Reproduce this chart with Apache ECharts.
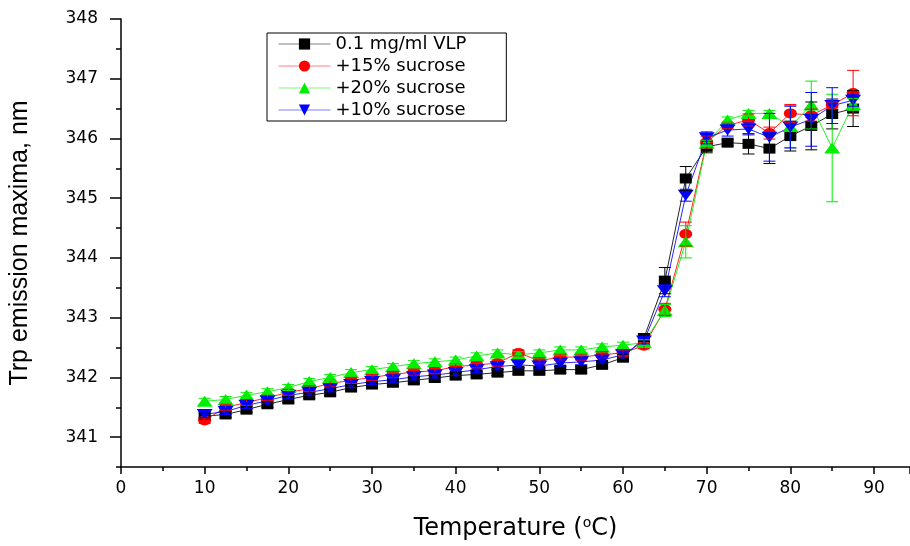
<!DOCTYPE html>
<html>
<head>
<meta charset="utf-8">
<script src="https://cdn.jsdelivr.net/npm/echarts@6/dist/echarts.min.js"></script>
<style>html,body{margin:0;padding:0;background:#fff}#c{width:910px;height:546px}</style>
</head>
<body>
<div id="c"></div>
<script>
const temps = [10,12.5,15,17.5,20,22.5,25,27.5,30,32.5,35,37.5,40,42.5,45,47.5,50,52.5,55,57.5,60,62.5,65,67.5,70,72.5,75,77.5,80,82.5,85,87.5];
const vlp   = [341.35,341.38,341.46,341.55,341.63,341.70,341.75,341.83,341.88,341.91,341.95,341.99,342.03,342.05,342.08,342.11,342.11,342.13,342.13,342.21,342.33,342.66,343.62,345.33,345.86,345.93,345.91,345.83,346.04,346.21,346.41,346.50];
const suc15 = [341.28,341.50,341.58,341.66,341.75,341.81,341.90,341.95,342.00,342.05,342.09,342.11,342.18,342.21,342.24,342.41,342.28,342.34,342.34,342.38,342.41,342.53,343.14,344.40,345.94,346.22,346.31,346.09,346.42,346.39,346.56,346.76];
const suc20 = [341.60,341.63,341.70,341.76,341.83,341.93,342.00,342.08,342.13,342.18,342.23,342.26,342.29,342.36,342.41,342.38,342.41,342.46,342.46,342.51,342.54,342.58,343.12,344.27,345.92,346.31,346.42,346.42,346.20,346.56,345.84,346.57];
const suc10 = [341.38,341.43,341.53,341.61,341.70,341.75,341.81,341.88,341.93,341.96,342.01,342.04,342.08,342.13,342.18,342.21,342.19,342.24,342.26,342.29,342.38,342.61,343.45,345.05,346.01,346.14,346.16,346.02,346.19,346.32,346.55,346.64];
const errVlp = [0.05,0.05,0.05,0.05,0.05,0.05,0.05,0.05,0.05,0.05,0.05,0.05,0.05,0.05,0.05,0.05,0.05,0.05,0.05,0.05,0.05,0.05,0.22,0.2,0.1,0.05,0.17,0.25,0.25,0.4,0.25,0.3];
const err15  = [0.05,0.05,0.05,0.05,0.05,0.05,0.05,0.05,0.05,0.05,0.05,0.05,0.05,0.05,0.05,0.05,0.05,0.05,0.05,0.05,0.05,0.05,0.1,0.2,0.1,0.05,0.1,0.1,0.15,0.1,0.05,0.38];
const err20  = [0.05,0.05,0.05,0.05,0.05,0.05,0.05,0.05,0.05,0.05,0.05,0.05,0.05,0.05,0.05,0.05,0.05,0.05,0.05,0.05,0.05,0.05,0.1,0.27,0.05,0.05,0.05,0.05,0.35,0.4,0.9,0.1];
const err10  = [0.05,0.05,0.05,0.05,0.05,0.05,0.05,0.05,0.05,0.05,0.05,0.05,0.05,0.05,0.05,0.05,0.05,0.05,0.05,0.05,0.05,0.05,0.1,0.1,0.1,0.1,0.1,0.4,0.35,0.45,0.3,0.1];
const names = ['0.1 mg/ml VLP','+15% sucrose','+20% sucrose','+10% sucrose'];
const yMajorTicks = [341,342,343,344,345,346,347,348];
const yMinorTicks = [340.5,341.5,342.5,343.5,344.5,345.5,346.5,347.5];
const xTitle = 'Temperature (';
const yTitle = 'Trp emission maxima, nm';

const FONT = '"DejaVu Sans", Verdana, sans-serif';
const FONT2 = '"Liberation Sans", Arial, sans-serif';
const cfg = [
  {name:names[0], vals:vlp,   errs:errVlp, color:'#000000', symbol:'rect',     size:[12,10], rot:0},
  {name:names[1], vals:suc15, errs:err15,  color:'#ff0000', symbol:'circle',   size:[13,10], rot:0},
  {name:names[2], vals:suc20, errs:err20,  color:'#00ee00', symbol:'triangle', size:[16,11], rot:0},
  {name:names[3], vals:suc10, errs:err10,  color:'#0000ff', symbol:'triangle', size:[16,11], rot:180}
];

const series = [];
cfg.forEach(function(c){
  series.push({
    type:'line', name:c.name, z:3,
    data: temps.map(function(t,i){return [t, c.vals[i]];}),
    symbol:c.symbol, symbolSize:c.size, symbolRotate:c.rot,
    showAllSymbol:true,
    lineStyle:{color:c.color, width:1, opacity:0.85},
    itemStyle:{color:c.color},
    emphasis:{disabled:true}
  });
});
cfg.forEach(function(c){
  series.push({
    type:'custom', name:c.name + ' error', silent:true, z:4,
    data: temps.map(function(t,i){return [t, c.vals[i], c.errs[i]];}),
    renderItem:function(params, api){
      const x=api.value(0), y=api.value(1), e=api.value(2);
      const top=api.coord([x,y+e]), bot=api.coord([x,y-e]);
      const w=6;
      const st={stroke:c.color, lineWidth:1};
      return {type:'group', children:[
        {type:'line', shape:{x1:top[0],y1:top[1],x2:bot[0],y2:bot[1]}, style:st},
        {type:'line', shape:{x1:top[0]-w,y1:top[1],x2:top[0]+w,y2:top[1]}, style:st},
        {type:'line', shape:{x1:bot[0]-w,y1:bot[1],x2:bot[0]+w,y2:bot[1]}, style:st}
      ]};
    }
  });
});

const chart = echarts.init(document.getElementById('c'), null, {renderer:'canvas'});
chart.setOption({
  animation:false,
  backgroundColor:'#fff',
  grid:{left:120, right:0, top:19, bottom:75, containLabel:false},
  legend:{
    data:names,
    orient:'vertical', left:267, top:33,
    padding:[2,40,2,11], itemGap:4, itemWidth:52, itemHeight:14,
    borderColor:'#000', borderWidth:1, borderRadius:0,
    lineStyle:{opacity:0.5, width:1},
    textStyle:{fontFamily:FONT, fontSize:18, color:'#000'}
  },
  xAxis:{
    type:'value', min:0, max:94.3, interval:10,
    axisLine:{lineStyle:{color:'#000', width:1.5}},
    axisTick:{show:true, length:7, lineStyle:{color:'#000', width:1.5}},
    minorTick:{show:true, splitNumber:2, length:4, lineStyle:{color:'#000', width:1.5}},
    splitLine:{show:false},
    axisLabel:{showMaxLabel:false, fontFamily:FONT, fontSize:17, color:'#000', margin:13},
    name:'{a|' + xTitle + '}{s|o}{a|C)}',
    nameLocation:'middle', nameGap:49,
    nameTextStyle:{rich:{a:{fontFamily:FONT, fontSize:24, color:'#000'}, s:{fontFamily:FONT, fontSize:14, color:'#000', verticalAlign:'top', padding:[0,0,12,0]}}}
  },
  yAxis:[{
    type:'value', min:340.5, max:348,
    axisLine:{lineStyle:{color:'#000', width:1.5}},
    axisTick:{show:true, length:11, customValues:yMajorTicks, lineStyle:{color:'#000', width:1.5}},
    splitLine:{show:false},
    axisLabel:{fontFamily:FONT, fontSize:17, color:'#000', margin:23, customValues:yMajorTicks},
    name:yTitle, nameLocation:'middle', nameGap:88,
    nameTextStyle:{fontFamily:FONT2, fontSize:25, color:'#000'}
  },{
    type:'value', min:340.5, max:348, position:'left',
    axisLine:{show:false},
    axisTick:{show:true, length:5, customValues:yMinorTicks, lineStyle:{color:'#000', width:1.5}},
    axisLabel:{show:false},
    splitLine:{show:false}
  }],
  series:series
});
</script>
</body>
</html>
